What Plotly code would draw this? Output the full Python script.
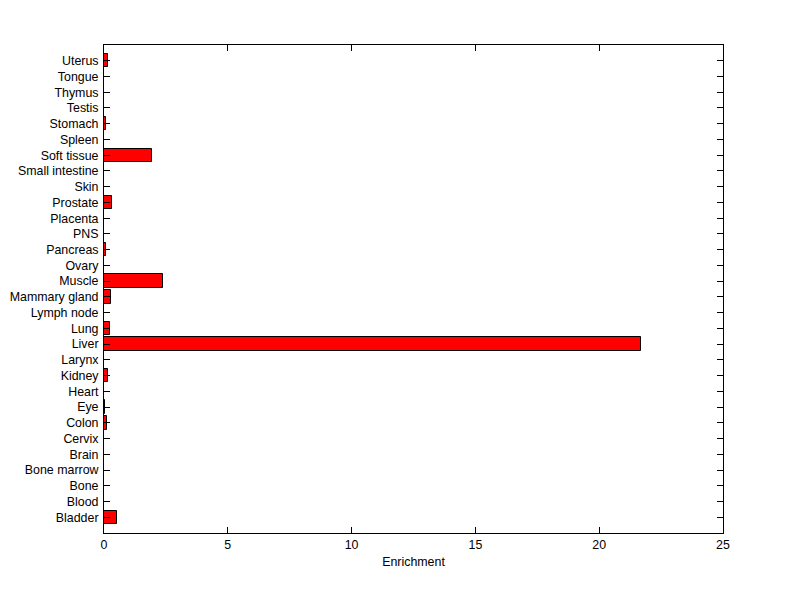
import plotly.graph_objects as go

tissues = ['Bladder', 'Blood', 'Bone', 'Bone marrow', 'Brain', 'Cervix', 'Colon', 'Eye',
           'Heart', 'Kidney', 'Larynx', 'Liver', 'Lung', 'Lymph node', 'Mammary gland',
           'Muscle', 'Ovary', 'Pancreas', 'PNS', 'Placenta', 'Prostate', 'Skin',
           'Small intestine', 'Soft tissue', 'Spleen', 'Stomach', 'Testis', 'Thymus',
           'Tongue', 'Uterus']
enrichment = [0.51, 0, 0, 0, 0, 0, 0.13, 0.03,
              0, 0.17, 0, 21.68, 0.26, 0, 0.30,
              2.37, 0, 0.07, 0, 0, 0.34, 0,
              0, 1.93, 0, 0.08, 0, 0,
              0, 0.15]
x_ticks = [0, 5, 10, 15, 20, 25]

fig = go.Figure()
fig.add_trace(go.Bar(
    x=enrichment,
    y=list(range(len(tissues))),
    orientation='h',
    width=0.85,
    marker=dict(color='#FF0000', line=dict(color='black', width=1)),
    showlegend=False
))

font = dict(family='Liberation Sans, Arial', size=12.4, color='black')
axis_common = dict(
    showline=True, linecolor='black', linewidth=1, mirror='ticks',
    ticks='inside', ticklen=6, tickcolor='black', showgrid=False, zeroline=False,
    tickfont=font, automargin=False
)

# page body adds an 8px offset, so margins are shifted to compensate
fig.update_layout(
    width=800, height=599,
    margin=dict(l=96, r=85, t=37, b=74),
    plot_bgcolor='white', paper_bgcolor='white',
    bargap=0,
    xaxis=dict(range=[0, 25], tickvals=x_ticks,
               title=dict(text='Enrichment', standoff=6, font=font),
               **axis_common),
    yaxis=dict(range=[-1, len(tissues)], tickmode='array',
               tickvals=list(range(len(tissues))), ticktext=tissues,
               ticklabelstandoff=2,
               **axis_common),
)

fig.write_html("out.html")
